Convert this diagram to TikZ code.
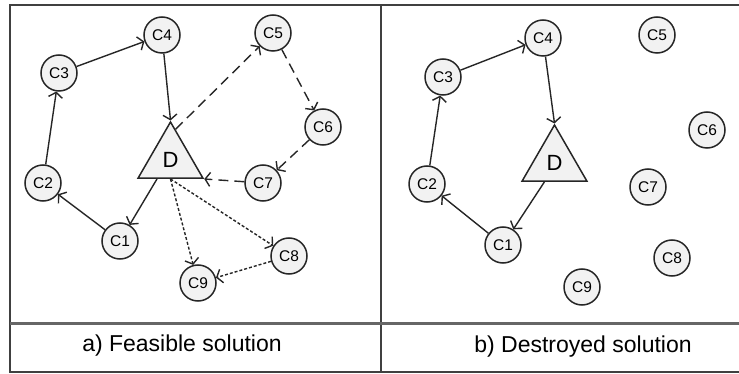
\documentclass[tikz,border=0pt]{standalone}
\usepackage{fontspec}
\setmainfont{Liberation Sans}
\usetikzlibrary{arrows.meta,shapes.geometric,calc}

\begin{document}
\begin{tikzpicture}[x=1pt,y=-1pt,
  cust/.style={circle,draw=black!85,line width=1.5pt,fill=gray!10,
    minimum size=36pt,inner sep=0pt,font=\fontsize{15.5}{15.5}\selectfont},
  depot/.style={regular polygon,regular polygon sides=3,draw=black!85,
    line width=1.5pt,fill=gray!10,minimum size=75pt,inner sep=0pt,
    font=\fontsize{22}{22}\selectfont},
  route/.style={line width=1.4pt,draw=black!85,
    -{Straight Barb[length=5pt,width=14pt]}},
  longdash/.style={route,dash pattern=on 10pt off 6pt},
  shortdash/.style={route,dash pattern=on 3pt off 2pt},
  frame/.style={line width=2pt,draw=black!75},
  caption/.style={font=\fontsize{23}{23}\selectfont}]

\useasboundingbox (0,0) rectangle (739,374);

% panel frames
\draw[frame] (739,5) -- (10,5) -- (10,372) -- (739,372);
\draw[frame] (381,5) -- (381,372);
\draw[line width=3pt,draw=black!60] (10,323) -- (739,323);

% ---- a) feasible solution ----
\node[depot] (aD) at (170.5,159.5) {D};
\node[cust] (a1) at (120,241) {C1};
\node[cust] (a2) at (43,183) {C2};
\node[cust] (a3) at (59,73) {C3};
\node[cust] (a4) at (162,35) {C4};
\node[cust] (a5) at (273,33) {C5};
\node[cust] (a6) at (323,127) {C6};
\node[cust] (a7) at (263,183) {C7};
\node[cust] (a8) at (289,256) {C8};
\node[cust] (a9) at (198,283) {C9};

% first route (solid)
\draw[route] (a2) -- (a3);
\draw[route] (a3) -- (a4);
\draw[route] (a4) -- (aD.corner 1);
\draw[route] ($(aD.corner 2)!0.3!(aD.corner 3)$) -- (a1);
\draw[route] (a1) -- (a2);
% second route (long dashes)
\draw[longdash] ($(aD.corner 1)!0.15!(aD.corner 3)$) -- (a5);
\draw[longdash] (a5) -- (a6);
\draw[longdash] (a6) -- (a7);
\draw[longdash] (a7) -- (aD.corner 3);
% third route (short dashes)
\draw[shortdash] (aD.side 2) -- (a8);
\draw[shortdash] (aD.side 2) -- (a9);
\draw[shortdash] (a8) -- (a9);

\node[caption] (capa) at (182,346) {a) Feasible solution};

% ---- b) destroyed solution ----
\node[depot] (bD) at (554.5,162.5) {D};
\node[cust] (b1) at (503,245) {C1};
\node[cust] (b2) at (427,184) {C2};
\node[cust] (b3) at (443,77) {C3};
\node[cust] (b4) at (543,38) {C4};
\node[cust] (b5) at (657,35) {C5};
\node[cust] (b6) at (707,130) {C6};
\node[cust] (b7) at (648,187) {C7};
\node[cust] (b8) at (672,258) {C8};
\node[cust] (b9) at (582,287) {C9};

\draw[route] (b2) -- (b3);
\draw[route] (b3) -- (b4);
\draw[route] (b4) -- (bD.corner 1);
\draw[route] ($(bD.corner 2)!0.35!(bD.corner 3)$) -- (b1);
\draw[route] (b1) -- (b2);

\node[caption] (capb) at (583,347) {b) Destroyed solution};

\end{tikzpicture}
\end{document}
